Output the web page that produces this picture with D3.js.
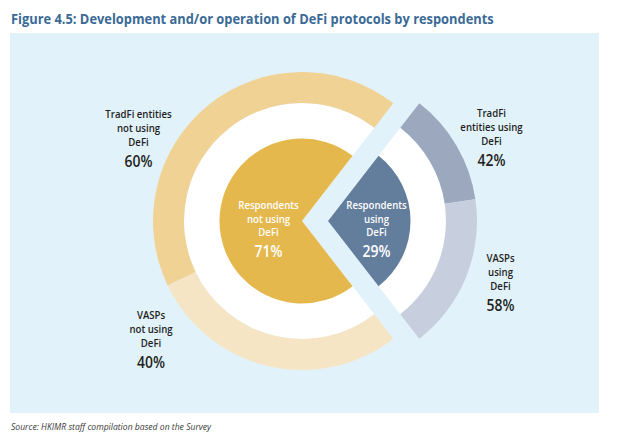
<!DOCTYPE html>
<html>
<head>
<meta charset="utf-8">
<script src="https://cdn.jsdelivr.net/npm/d3@7"></script>
<style>
html,body{margin:0;padding:0;background:#fff;}
svg{display:block;}
text{font-family:"Open Sans","Liberation Sans",sans-serif;}
</style>
</head>
<body>
<svg id="chart" width="622" height="435"></svg>
<script>
// Data
const innerCategories = ["Respondents not using DeFi", "Respondents using DeFi"];
const innerValues = [71, 29];
const notUsingCategories = ["VASPs not using DeFi", "TradFi entities not using DeFi"];
const notUsingValues = [40, 60];
const usingCategories = ["TradFi entities using DeFi", "VASPs using DeFi"];
const usingValues = [42, 58];

const svg = d3.select("#chart");

svg.append("rect").attr("x", 10).attr("y", 33).attr("width", 589).attr("height", 380).attr("fill", "#E2F2FB");

const title = svg.append("text").attr("x", 11).attr("y", 24)
  .attr("font-size", 14).attr("font-weight", 700).attr("fill", "#3A6A95")
  .attr("font-family", "'Open Sans',sans-serif")
  .text("Figure 4.5: Development and/or operation of DeFi protocols by respondents");
{
  const w = title.node().getComputedTextLength();
  title.attr("transform", `translate(11,0) scale(${483 / w},1) translate(-11,0)`);
}

svg.append("text").attr("x", 11).attr("y", 430)
  .attr("font-size", 8.6).attr("font-style", "italic").attr("fill", "#3a3a3a")
  .text("Source: HKIMR staff compilation based on the Survey");

// Geometry
const cx = 302, cy = 221, explode = 26;
const rPie = 82.5, rWhite = 118, rRingIn = 118, rRingOut = 149;

const usingSpan = innerValues[1] / d3.sum(innerValues) * 2 * Math.PI;
const usingEnd = Math.PI / 2 + usingSpan / 2;

const innerPie = d3.pie().sort(null).value(d => d)
  .startAngle(usingEnd).endAngle(usingEnd + 2 * Math.PI);
const innerArcs = innerPie(innerValues);
const groups = [
  {arc: innerArcs[0], dx: 0, pieColor: "#E5B84E", ringVals: notUsingValues, ringColors: ["#F6E5C4", "#F0D295"]},
  {arc: innerArcs[1], dx: explode, pieColor: "#637D9C", ringVals: usingValues, ringColors: ["#9CA8BE", "#C7CEDD"]}
];

groups.forEach(g => {
  const gg = svg.append("g").attr("transform", `translate(${cx + g.dx},${cy})`);
  gg.append("path").attr("fill", "#fff")
    .attr("d", d3.arc().innerRadius(0).outerRadius(rWhite)(g.arc));
  gg.append("path").attr("fill", g.pieColor)
    .attr("d", d3.arc().innerRadius(0).outerRadius(rPie)(g.arc));
  const ringPie = d3.pie().sort(null).value(d => d)
    .startAngle(g.arc.startAngle).endAngle(g.arc.endAngle);
  gg.selectAll(null).data(ringPie(g.ringVals)).join("path")
    .attr("fill", (d, i) => g.ringColors[i])
    .attr("d", d3.arc().innerRadius(rRingIn).outerRadius(rRingOut));
});

// Labels (condensed look via horizontal scale)
const sx = 0.86;
function label(x, yTop, lines, pct, color, lh) {
  const t = svg.append("g").attr("fill", color).attr("text-anchor", "middle")
    .attr("transform", `translate(${x},0) scale(${sx},1)`)
    .attr("font-family", "'Open Sans',sans-serif");
  lines.forEach((l, i) => {
    t.append("text").attr("x", 0).attr("y", yTop + i * lh).attr("font-size", 11.2)
      .attr("font-weight", 600).text(l);
  });
  t.append("text").attr("x", 0).attr("y", yTop + (lines.length - 1) * lh + 21)
    .attr("font-size", 16.2).attr("font-weight", 600).text(pct + "%");
}
const dark = "#231f20";
label(138.5, 118.5, ["TradFi entities", "not using", "DeFi"], notUsingValues[1], dark, 13.6);
label(151, 319.5, ["VASPs", "not using", "DeFi"], notUsingValues[0], dark, 13.6);
label(491.5, 117.5, ["TradFi", "entities using", "DeFi"], usingValues[0], dark, 13.9);
label(500.5, 262.5, ["VASPs", "using", "DeFi"], usingValues[1], dark, 13.9);
label(268.5, 209.5, ["Respondents", "not using", "DeFi"], innerValues[0], "#fff", 13.5);
label(376.5, 209.5, ["Respondents", "using", "DeFi"], innerValues[1], "#fff", 13.5);
</script>
</body>
</html>
